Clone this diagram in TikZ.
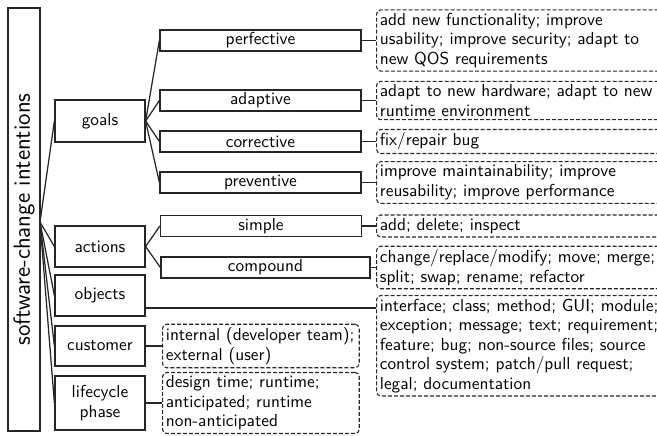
\documentclass[tikz,border=0pt]{standalone}
\usetikzlibrary{calc}
\begin{document}
\begin{tikzpicture}[x=0.6pt,y=-0.6pt,
  every node/.style={font=\fontsize{10.4}{11.7}\selectfont\sffamily},
  box/.style={draw=black!85, line width=0.75pt, inner sep=0pt, align=center},
  lone/.style={box, minimum width=54pt},
  ltwo/.style={box, minimum width=120.6pt, minimum height=12.6pt},
  desc/.style={draw=black!85, line width=0.65pt, dash pattern=on 2.4pt off 1.2pt, rounded corners=2.5pt, inner sep=2pt, align=left, anchor=west},
  wide/.style={desc, text width=175pt},
  narrow/.style={desc, text width=114pt},
  conn/.style={draw=black!85, line width=0.75pt}]
\useasboundingbox (0,0) rectangle (657,435);
\clip (0,0) rectangle (657,435);
% root
\node[box, rotate=90, minimum width=253.8pt, minimum height=19.2pt, font=\fontsize{14}{16}\selectfont\sffamily] (root) at (24,219.5) {software-change intentions};
\coordinate (rootc) at (40,222);
% level 1
\node[lone, minimum height=25.2pt] (goals) at (100,121) {goals};
\node[lone, minimum height=24.6pt] (actions) at (100,246.5) {actions};
\node[lone, minimum height=24.6pt] (objects) at (100,295.5) {objects};
\node[lone, minimum height=24pt] (customer) at (100,346) {customer};
\node[lone, minimum height=32.4pt] (lifecycle) at (100,403) {lifecycle\\phase};
% level 2
\node[ltwo] (perf) at (260.5,40.5) {perfective};
\node[ltwo] (adap) at (260.5,100.5) {adaptive};
\node[ltwo] (corr) at (260.5,141.5) {corrective};
\node[ltwo] (prev) at (260.5,182.5) {preventive};
\node[ltwo] (simple) at (261,226) {simple};
\node[ltwo, minimum width=125.4pt] (compound) at (265.5,267.5) {compound};
% descriptions
\node[wide] (pd) at (376,40.5) {add new functionality; improve\\usability; improve security; adapt to\\new QOS requirements};
\node[wide] (ad) at (376,100.5) {adapt to new hardware; adapt to new\\runtime environment};
\node[wide] (cd) at (376,141.5) {fix/repair bug};
\node[wide] (vd) at (376,182.5) {improve maintainability; improve\\reusability; improve performance};
\node[wide] (sd) at (376,226) {add; delete; inspect};
\node[wide] (md) at (376,267.5) {change/replace/modify; move; merge;\\split; swap; rename; refactor};
\node[wide, anchor=north west] (od) at (376,295) {interface; class; method; GUI; module;\\exception; message; text; requirement;\\feature; bug; non-source files; source\\control system; patch/pull request;\\legal; documentation};
\node[narrow] (custd) at (162,346) {internal (developer team);\\external (user)};
\node[narrow] (lifed) at (162,403) {design time; runtime;\\anticipated; runtime\\non-anticipated};
\coordinate (oa) at ($(od.north west)+(0,13)$);
% connectors
\foreach \n in {goals,actions,objects,customer,lifecycle} \draw[conn] (rootc) -- (\n.west);
\foreach \n in {perf,adap,corr,prev} \draw[conn] (goals.east) -- (\n.west);
\foreach \n in {simple,compound} \draw[conn] (actions.east) -- (\n.west);
\draw[conn] (perf.east) -- (perf.east -| pd.west);
\draw[conn] (adap.east) -- (adap.east -| ad.west);
\draw[conn] (corr.east) -- (corr.east -| cd.west);
\draw[conn] (prev.east) -- (prev.east -| vd.west);
\draw[conn] (simple.east) -- (simple.east -| sd.west);
\draw[conn] (compound.east) -- (compound.east -| md.west);
\draw[conn] (oa -| objects.east) -- (oa);
\draw[conn] (customer.east) -- (customer.east -| custd.west);
\draw[conn] (lifecycle.east) -- (lifecycle.east -| lifed.west);
\end{tikzpicture}
\end{document}
